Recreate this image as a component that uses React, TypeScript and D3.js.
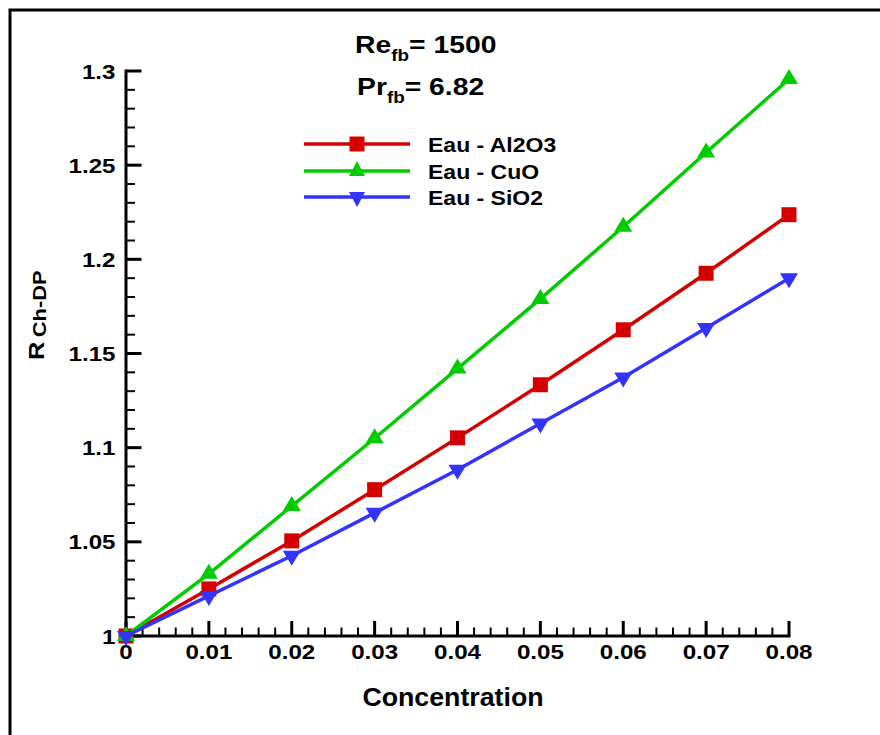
import React from 'react';
import * as d3 from 'd3';

const concentrations = [0, 0.01, 0.02, 0.03, 0.04, 0.05, 0.06, 0.07, 0.08];
const al2o3 = [1, 1.025, 1.0505, 1.0777, 1.1052, 1.1334, 1.1626, 1.1926, 1.2237];
const cuo = [1, 1.033, 1.069, 1.105, 1.142, 1.179, 1.2173, 1.2567, 1.2957];
const sio2 = [1, 1.0213, 1.0426, 1.0654, 1.0883, 1.1128, 1.1372, 1.1635, 1.19];
const seriesNames = ['Eau - Al2O3', 'Eau - CuO', 'Eau - SiO2'];
const xTicks = [0, 0.01, 0.02, 0.03, 0.04, 0.05, 0.06, 0.07, 0.08];
const xTickLabels = ['0', '0.01', '0.02', '0.03', '0.04', '0.05', '0.06', '0.07', '0.08'];
const yTicks = [1, 1.05, 1.1, 1.15, 1.2, 1.25, 1.3];
const yTickLabels = ['1', '1.05', '1.1', '1.15', '1.2', '1.25', '1.3'];

const FONT = 'Arial, "Liberation Sans", Helvetica, sans-serif';
const colors = ['#d40000', '#00cc00', '#3333ff'];
const shapes = ['square', 'up', 'down'];

function markerPath(shape: string, w: number) {
  if (shape === 'square') {
    const h = 7.5;
    return `M${-h},${-h}H${h}V${h}H${-h}Z`;
  }
  const hw = w / 2;
  if (shape === 'up') return `M0,-10L${hw},5L${-hw},5Z`;
  return `M0,10L${hw},-5L${-hw},-5Z`;
}

function ST(props: { x: number; y: number; sx: number; size: number; anchor?: string; children: React.ReactNode; rotate?: number }) {
  const { x, y, sx, size, anchor, children, rotate } = props;
  return (
    <text
      transform={`translate(${x},${y})${rotate ? ` rotate(${rotate})` : ''} scale(${sx},1)`}
      fontSize={size}
      textAnchor={anchor || 'start'}
    >
      {children}
    </text>
  );
}

export default function App() {
  const x = d3.scaleLinear().domain([0, 0.08]).range([126, 789]);
  const y = d3.scaleLinear().domain([1, 1.3]).range([636, 71]);
  const series = [al2o3, cuo, sio2];
  const line = d3
    .line<number>()
    .x((_, i) => x(concentrations[i]))
    .y((d) => y(d));

  const xMinor: number[] = [];
  for (let i = 0; i < xTicks.length - 1; i++) {
    for (let k = 1; k < 5; k++) xMinor.push(xTicks[i] + (k * (xTicks[i + 1] - xTicks[i])) / 5);
  }
  const yMinor: number[] = [];
  for (let i = 0; i < yTicks.length - 1; i++) {
    for (let k = 1; k < 5; k++) yMinor.push(yTicks[i] + (k * (yTicks[i + 1] - yTicks[i])) / 5);
  }

  const legendY = [144, 171, 197];

  return (
    <svg
      width={880}
      height={735}
      style={{ position: 'absolute', left: 0, top: 0, background: '#fff' }}
      fontFamily={FONT}
      fontWeight="bold"
    >
      <rect x={0} y={0} width={880} height={735} fill="#fff" />
      <rect x={10} y={10} width={900} height={800} fill="none" stroke="#000" strokeWidth={3} />

      {/* axes */}
      <line x1={x(0)} x2={x(0.08)} y1={y(1)} y2={y(1)} stroke="#000" strokeWidth={3} strokeLinecap="square" />
      <line x1={x(0)} x2={x(0)} y1={y(1)} y2={y(1.3)} stroke="#000" strokeWidth={3} strokeLinecap="square" />
      {xTicks.map((t) => (
        <line key={'xt' + t} x1={x(t)} x2={x(t)} y1={y(1)} y2={y(1) - 15} stroke="#000" strokeWidth={3} />
      ))}
      {xMinor.map((t, i) => (
        <line key={'xm' + i} x1={x(t)} x2={x(t)} y1={y(1)} y2={y(1) - 8.5} stroke="#000" strokeWidth={2} />
      ))}
      {yTicks.map((t) => (
        <line key={'yt' + t} x1={x(0)} x2={x(0) + 15.5} y1={y(t)} y2={y(t)} stroke="#000" strokeWidth={3} />
      ))}
      {yMinor.map((t, i) => (
        <line key={'ym' + i} x1={x(0)} x2={x(0) + 9} y1={y(t)} y2={y(t)} stroke="#000" strokeWidth={2} />
      ))}
      {xTicks.map((t, i) => (
        <ST key={'xl' + t} x={x(t)} y={659} sx={1.15} size={21} anchor="middle">
          {xTickLabels[i]}
        </ST>
      ))}
      {yTicks.map((t, i) => (
        <ST key={'yl' + t} x={115.5} y={y(t) + 7.5} sx={1.15} size={21} anchor="end">
          {yTickLabels[i]}
        </ST>
      ))}

      {/* axis titles */}
      <ST x={453} y={706} sx={1.07} size={25} anchor="middle">
        Concentration
      </ST>
      <ST x={44} y={360} sx={1.15} size={22} rotate={-90}>
        <tspan>R</tspan>
        <tspan fontSize={19} dx={4} dy={2}>
          Ch-DP
        </tspan>
      </ST>

      {/* title */}
      <ST x={355} y={53} sx={1.18} size={24}>
        <tspan>Re</tspan>
        <tspan fontSize={16} dy={8}>fb</tspan>
        <tspan dy={-8}>= 1500</tspan>
      </ST>
      <ST x={357} y={95} sx={1.18} size={24}>
        <tspan>Pr</tspan>
        <tspan fontSize={16} dy={8}>fb</tspan>
        <tspan dy={-8}>= 6.82</tspan>
      </ST>

      {/* series */}
      {series.map((vals, s) => (
        <g key={'s' + s}>
          <path d={line(vals) || ''} fill="none" stroke={colors[s]} strokeWidth={3.5} />
          {vals.map((v, i) => (
            <path
              key={i}
              d={markerPath(shapes[s], 18)}
              transform={`translate(${x(concentrations[i])},${y(v)})`}
              fill={colors[s]}
            />
          ))}
        </g>
      ))}

      {/* legend */}
      {seriesNames.map((name, s) => (
        <g key={'lg' + s}>
          <line x1={304} x2={410} y1={legendY[s]} y2={legendY[s]} stroke={colors[s]} strokeWidth={3.5} />
          <path d={markerPath(shapes[s], 16)} transform={`translate(357,${legendY[s]})`} fill={colors[s]} />
          <ST x={428} y={legendY[s] + 8} sx={1.15} size={20}>
            {name}
          </ST>
        </g>
      ))}
    </svg>
  );
}
